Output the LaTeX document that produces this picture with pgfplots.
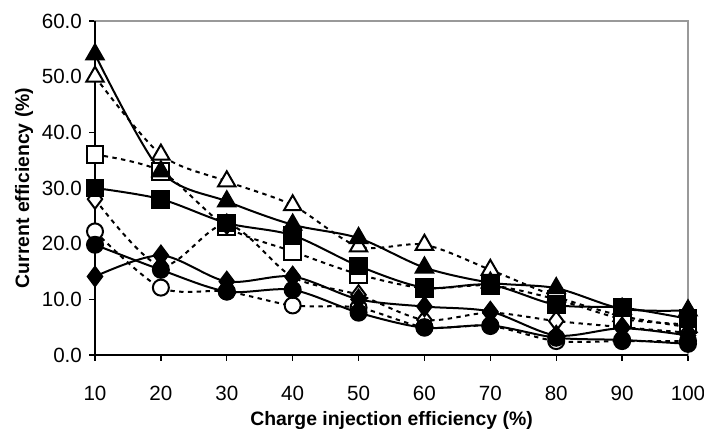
\documentclass[border=0pt]{standalone}
\usepackage{fontspec}
\setmainfont{Liberation Sans}
\usepackage{pgfplots}
\pgfplotsset{compat=1.18}
\begin{document}
\begin{tikzpicture}
\begin{axis}[
 scale only axis, width=296.5pt, height=167pt,
 xmin=10, xmax=100, ymin=0, ymax=60,
 xtick={10,20,...,100}, ytick={0,10,...,60},
 tick align=outside, xtick pos=left, ytick pos=left,
 major tick length=3pt,
 axis line style={gray!80, line width=0.8pt},
 every tick/.style={black, line width=0.7pt},
 yticklabel style={/pgf/number format/.cd, fixed, fixed zerofill, precision=1},
 /pgf/number format/assume math mode=true,
 ticklabel style={font=\fontsize{10.3}{12}\selectfont},
 xticklabel style={yshift=-9pt},
 xlabel={Charge injection efficiency (\%)},
 ylabel={Current efficiency (\%)},
 label style={font=\bfseries\fontsize{9.7}{11}\selectfont},
 xlabel style={at={([yshift=-33pt]rel axis cs:0.5,0)}, anchor=center},
 ylabel style={at={([xshift=-35.5pt]rel axis cs:0,0.5)}, anchor=center},
 clip=false,
 every axis plot/.append style={black, line width=1pt, smooth},
 openline/.style={dash pattern=on 2.2pt off 2.2pt},
]
\coordinate (ll) at (rel axis cs:0,0);
\coordinate (ur) at (rel axis cs:1,1);
% open series (dotted)
\addplot[openline, mark=triangle*, mark size=5pt, mark options={solid, fill=white}] coordinates {
(10,50) (20,36) (30,31.2) (40,26.9) (50,19.5) (60,19.8) (70,15.3) (80,10.5) (90,7) (100,5)};
\addplot[openline, mark=square*, mark size=4.2pt, mark options={solid, fill=white}] coordinates {
(10,36) (20,33) (30,23) (40,18.6) (50,14.5) (60,12) (70,12.5) (80,10) (90,6.5) (100,5.5)};
\addplot[openline, mark=diamond*, mark size=4.8pt, mark options={solid, fill=white}] coordinates {
(10,28) (20,16) (30,23.5) (40,14) (50,10.8) (60,6.3) (70,7.6) (80,6.1) (90,5) (100,4)};
\addplot[openline, mark=*, mark size=4pt, mark options={solid, fill=white}] coordinates {
(10,22.2) (20,12.1) (30,11.4) (40,8.9) (50,8.5) (60,5) (70,5.2) (80,2.5) (90,2.5) (100,2.5)};
% filled series (solid)
\addplot[mark=triangle*, mark size=5pt, mark options={fill=black}] coordinates {
(10,54) (20,33) (30,27.6) (40,23.4) (50,21) (60,15.7) (70,13) (80,12) (90,8.3) (100,8)};
\addplot[mark=square*, mark size=4.2pt, mark options={fill=black}] coordinates {
(10,30) (20,28) (30,23.7) (40,21.5) (50,16) (60,12.1) (70,12.6) (80,9) (90,8.5) (100,6.5)};
\addplot[mark=diamond*, mark size=4.8pt, mark options={fill=black}] coordinates {
(10,14.1) (20,17.9) (30,13.2) (40,14.1) (50,10) (60,8.7) (70,7.8) (80,3.5) (90,4.8) (100,3.5)};
\addplot[mark=*, mark size=4pt, mark options={fill=black}] coordinates {
(10,19.8) (20,15.3) (30,11.4) (40,11.7) (50,7.6) (60,4.9) (70,5.3) (80,3.1) (90,2.7) (100,2)};
\draw[black, line width=0.8pt] (rel axis cs:0,1) -- (rel axis cs:0,0) -- (rel axis cs:1,0);
\end{axis}
\pgfresetboundingbox
\path ([xshift=-47.5pt,yshift=-37pt]ll) rectangle ([xshift=8pt,yshift=10.5pt]ur);
\end{tikzpicture}
\end{document}
